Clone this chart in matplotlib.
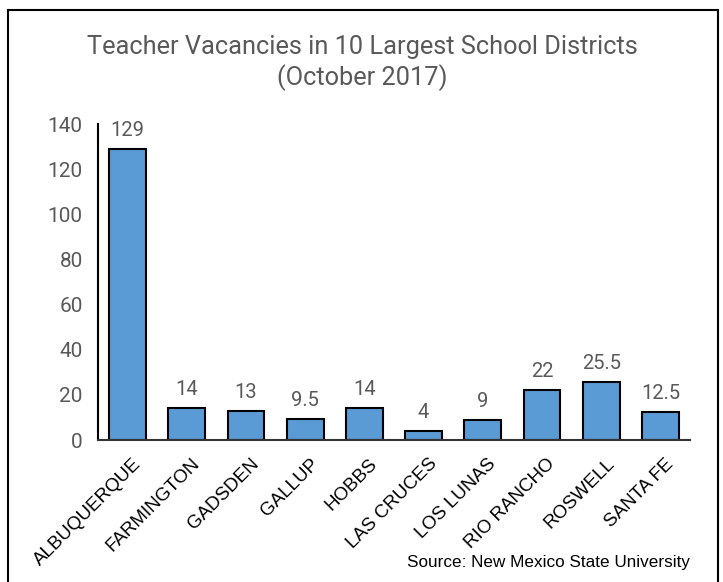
import matplotlib.pyplot as plt
from matplotlib.patches import Rectangle

districts = ['ALBUQUERQUE', 'FARMINGTON', 'GADSDEN', 'GALLUP', 'HOBBS',
             'LAS CRUCES', 'LOS LUNAS', 'RIO RANCHO', 'ROSWELL', 'SANTA FE']
vacancies = [129, 14, 13, 9.5, 14, 4, 9, 22, 25.5, 12.5]
value_labels = ['129', '14', '13', '9.5', '14', '4', '9', '22', '25.5', '12.5']

narrow = ['Roboto', 'DejaVu Sans']

fig = plt.figure(figsize=(7.23, 5.82), dpi=100)
ax = fig.add_axes([98 / 723, 1 - 440 / 582, 592 / 723, 316 / 582])

x = range(len(districts))
ax.bar(x, vacancies, width=0.62, color='#5B9BD5', edgecolor='black', linewidth=1.5)
for i, v in enumerate(vacancies):
    ax.text(i, v + 4, value_labels[i], ha='center', va='bottom',
            fontsize=14.5, color='#595959', family=narrow)

ax.set_xlim(-0.5, len(districts) - 0.5)
ax.set_ylim(0, 140)
ax.set_yticks(range(0, 141, 20))
ax.set_yticklabels([str(t) for t in range(0, 141, 20)], fontsize=15,
                   color='#595959', family=narrow)
ax.tick_params(axis='y', length=0, pad=11)
ax.tick_params(axis='x', length=0, pad=11)
ax.set_xticks([i + 0.08 for i in x])
ax.set_xticklabels(districts, rotation=45, ha='right', rotation_mode='anchor',
                   fontsize=13.5, family='Liberation Sans')

for s in ['top', 'right']:
    ax.spines[s].set_visible(False)
ax.spines['left'].set_linewidth(1.5)
ax.spines['bottom'].set_linewidth(1.5)
ax.spines['bottom'].set_color('#333333')

fig.text(362 / 723, 1 - 47 / 582, 'Teacher Vacancies in 10 Largest School Districts',
         ha='center', va='center', fontsize=18.3, color='#595959', family=narrow)
fig.text(362 / 723, 1 - 78 / 582, '(October 2017)',
         ha='center', va='center', fontsize=18.3, color='#595959', family=narrow)
fig.text(690 / 723, 1 - 563 / 582, 'Source: New Mexico State University',
         ha='right', va='center', fontsize=12.3, color='black', family='Liberation Sans')

fig.patches.append(Rectangle((8 / 723, -0.05), 710 / 723, 1.05 - 10 / 582,
                             transform=fig.transFigure, fill=False,
                             edgecolor='black', linewidth=1.5))

fig.savefig('out.png', dpi=100)
